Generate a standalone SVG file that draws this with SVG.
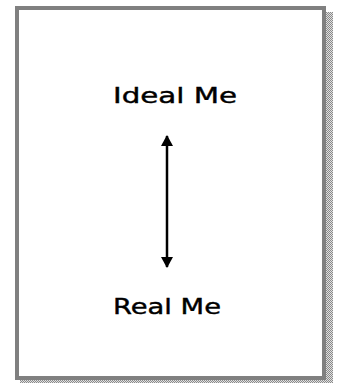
<svg xmlns="http://www.w3.org/2000/svg" width="338" height="383" viewBox="0 0 338 383">
<defs>
<pattern id="chk" width="2" height="2" patternUnits="userSpaceOnUse">
<rect width="2" height="2" fill="#e0e0e0"/>
<rect width="1" height="1" fill="#8a8a8a"/>
<rect x="1" y="1" width="1" height="1" fill="#8a8a8a"/>
</pattern>
<marker id="ah" markerWidth="12" markerHeight="12" refX="10" refY="6" orient="auto-start-reverse" markerUnits="userSpaceOnUse">
<path d="M0,0 L11,6 L0,12 Z" fill="#000"/>
</marker>
<style>
.lbl{font-family:"Comic Sans MS","DejaVu Sans",sans-serif;font-size:21px;fill:#000;text-anchor:middle;stroke:#000;stroke-width:0.4}
</style>
</defs>
<rect x="0" y="0" width="338" height="383" fill="#fff"/>
<rect x="326" y="12" width="7" height="371" fill="url(#chk)"/>
<rect x="20" y="379" width="313" height="4" fill="url(#chk)"/>
<rect id="frame" x="17" y="8" width="307" height="370" fill="#fff" stroke="#808080" stroke-width="4"/>
<g id="ideal"><text class="lbl" x="175" y="103" textLength="124" lengthAdjust="spacingAndGlyphs">Ideal Me</text></g>
<g id="real"><text class="lbl" x="167" y="314" textLength="108" lengthAdjust="spacingAndGlyphs">Real Me</text></g>
<g id="connectors"><line x1="167" y1="136" x2="167" y2="267" stroke="#000" stroke-width="2.5" marker-start="url(#ah)" marker-end="url(#ah)"/></g>
</svg>
